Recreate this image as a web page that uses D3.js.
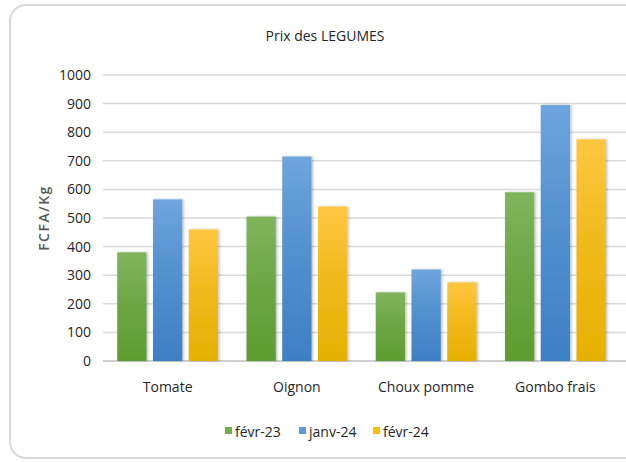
<!DOCTYPE html>
<html>
  <head>
    <meta charset="utf-8">
    <script src="https://cdn.jsdelivr.net/npm/d3@7"></script>
    <style>
      body { margin: 0; background: #fff; }
      text { font-family: "Open Sans", sans-serif; fill: #262626; }
    </style>
  </head>
  <body>
    <div id="chart"></div>
    <script type="text/javascript">
      var categories = ["Tomate", "Oignon", "Choux pomme", "Gombo frais"],
          seriesNames = ["févr-23", "janv-24", "févr-24"],
          fevr23 = [380, 505, 240, 590],
          janv24 = [565, 715, 320, 895],
          fevr24 = [460, 540, 275, 775],
          yTicks = [0, 100, 200, 300, 400, 500, 600, 700, 800, 900, 1000];

      var series = [fevr23, janv24, fevr24];
      // gradient stops: top, bottom
      var fills = [["#80b55e", "#5e9c30"], ["#6ea5dd", "#3d80c4"], ["#ffc740", "#e6b000"]],
          swatch = ["#70ad47", "#5b9bd5", "#ffc000"];

      var width = 626, height = 462,
          plotLeft = 103, plotRight = 620, plotTop = 75, plotBottom = 361;

      var svg = d3.select("#chart").append("svg")
          .attr("width", width)
          .attr("height", height);

      var defs = svg.append("defs");
      fills.forEach(function(f, i) {
        var g = defs.append("linearGradient")
            .attr("id", "grad" + i)
            .attr("x1", 0).attr("y1", 0).attr("x2", 0).attr("y2", 1);
        g.append("stop").attr("offset", "0%").attr("stop-color", f[0]);
        g.append("stop").attr("offset", "45%").attr("stop-color", d3.interpolateRgb(f[0], f[1])(0.55));
        g.append("stop").attr("offset", "100%").attr("stop-color", f[1]);
      });
      var shadow = defs.append("filter").attr("id", "shadow")
          .attr("x", "-20%").attr("y", "-5%").attr("width", "150%").attr("height", "110%");
      shadow.append("feDropShadow")
          .attr("dx", 1.5).attr("dy", 0).attr("stdDeviation", 1.2)
          .attr("flood-color", "#000").attr("flood-opacity", 0.25);

      // outer frame
      svg.append("rect")
          .attr("x", 10).attr("y", 5)
          .attr("width", 640).attr("height", 453)
          .attr("rx", 16)
          .attr("fill", "none")
          .attr("stroke", "#d9d9d9")
          .attr("stroke-width", 2);

      var x0 = d3.scaleBand()
          .domain(categories)
          .range([plotLeft, plotRight])
          .paddingInner(0.22)
          .paddingOuter(0.11);

      var x1 = d3.scaleBand()
          .domain(d3.range(series.length))
          .range([0, x0.bandwidth()])
          .paddingInner(0.18);

      var y = d3.scaleLinear()
          .domain([0, 1000])
          .range([plotBottom, plotTop]);

      // gridlines
      svg.append("g").selectAll("line")
          .data(yTicks)
          .enter().append("line")
            .attr("x1", plotLeft).attr("x2", plotRight + 10)
            .attr("y1", function(d) { return y(d); })
            .attr("y2", function(d) { return y(d); })
            .attr("stroke", function(d) { return d === 0 ? "#bfbfbf" : "#d9d9d9"; })
            .attr("stroke-width", 1.5);

      var yAxis = svg.append("g")
          .attr("transform", "translate(" + (plotLeft - 8) + ",0)")
          .call(d3.axisLeft(y).tickValues(yTicks).tickFormat(d3.format("d")).tickSize(0).tickPadding(4));
      yAxis.select(".domain").remove();
      yAxis.selectAll("text")
          .style("font-size", "14px")
          .style("font-family", "'Open Sans', sans-serif")
          .attr("fill", "#262626");

      var groups = svg.append("g").selectAll("g")
          .data(categories)
          .enter().append("g")
            .attr("transform", function(d) { return "translate(" + x0(d) + ",0)"; });

      groups.selectAll("rect")
          .data(function(d, ci) { return series.map(function(s, si) { return { si: si, value: s[ci] }; }); })
          .enter().append("rect")
            .attr("x", function(d) { return x1(d.si); })
            .attr("y", function(d) { return y(d.value); })
            .attr("width", x1.bandwidth())
            .attr("height", function(d) { return y(0) - y(d.value); })
            .attr("fill", function(d) { return "url(#grad" + d.si + ")"; })
            .attr("filter", "url(#shadow)");

      var xAxis = svg.append("g")
          .attr("transform", "translate(0," + plotBottom + ")")
          .call(d3.axisBottom(x0).tickSize(0).tickPadding(21));
      xAxis.select(".domain").remove();
      xAxis.selectAll("text")
          .style("font-size", "14px")
          .style("font-family", "'Open Sans', sans-serif")
          .attr("fill", "#262626");

      svg.append("text")
          .attr("x", 325).attr("y", 41)
          .attr("text-anchor", "middle")
          .style("font-size", "14px")
          .text("Prix des LEGUMES");

      svg.append("text")
          .attr("transform", "translate(49," + ((plotTop + plotBottom) / 2) + ") rotate(-90)")
          .attr("text-anchor", "middle")
          .style("font-size", "14px")
          .style("font-weight", "600")
          .style("letter-spacing", "1.5px")
          .style("fill", "#595959")
          .text("FCFA/Kg");

      // legend
      var legendX = [225, 299, 373];
      var legend = svg.append("g").selectAll("g")
          .data(seriesNames)
          .enter().append("g")
            .attr("transform", function(d, i) { return "translate(" + legendX[i] + ",432)"; });
      legend.append("rect")
          .attr("x", 0).attr("y", -5)
          .attr("width", 7).attr("height", 7)
          .attr("fill", function(d, i) { return swatch[i]; });
      legend.append("text")
          .attr("x", 10).attr("y", 5)
          .style("font-size", "14px")
          .text(function(d) { return d; });
    </script>
  </body>
</html>
